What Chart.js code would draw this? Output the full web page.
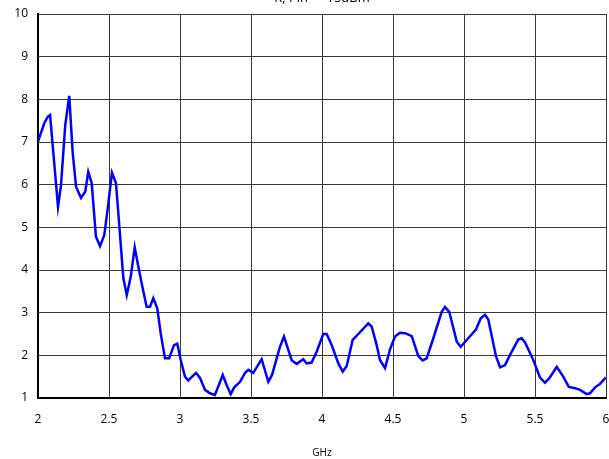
<!DOCTYPE html>
<html>
<head>
<meta charset="utf-8">
<script src="https://cdn.jsdelivr.net/npm/chart.js@4/dist/chart.umd.min.js"></script>
<style>
  html, body { margin: 0; padding: 0; background: #fff; }
  #wrap { width: 609px; height: 459px; position: relative; }
</style>
</head>
<body>
<div id="wrap"><canvas id="c" width="609" height="459"></canvas></div>
<script>
const chartTitle = "K, Pin = -15dBm";
const xAxisTitle = "GHz";
const xTicks = [2, 2.5, 3, 3.5, 4, 4.5, 5, 5.5, 6];
const yTicks = [1, 2, 3, 4, 5, 6, 7, 8, 9, 10];

const freqGHz = [
  2.000, 2.044, 2.068, 2.085, 2.141, 2.162, 2.192, 2.220, 2.244, 2.268,
  2.303, 2.333, 2.354, 2.378, 2.408, 2.437, 2.467, 2.491, 2.521, 2.549,
  2.573, 2.601, 2.625, 2.653, 2.681, 2.706, 2.737, 2.765, 2.789, 2.812,
  2.840, 2.864, 2.894, 2.923, 2.958, 2.981, 3.005, 3.035, 3.058, 3.113,
  3.141, 3.176, 3.211, 3.246, 3.301, 3.329, 3.357, 3.382, 3.423, 3.458,
  3.481, 3.516, 3.575, 3.622, 3.648, 3.704, 3.732, 3.787, 3.822, 3.868,
  3.892, 3.927, 3.963, 4.009, 4.033, 4.068, 4.115, 4.146, 4.174, 4.216,
  4.256, 4.326, 4.350, 4.385, 4.408, 4.444, 4.479, 4.514, 4.549, 4.585,
  4.632, 4.678, 4.709, 4.737, 4.784, 4.843, 4.866, 4.896, 4.949, 4.977,
  5.030, 5.085, 5.118, 5.148, 5.171, 5.225, 5.254, 5.289, 5.324, 5.382,
  5.406, 5.430, 5.488, 5.535, 5.570, 5.600, 5.653, 5.699, 5.738, 5.782,
  5.817, 5.864, 5.887, 5.923, 5.958, 5.993, 6.000
];
const kValues = [
  7.01, 7.44, 7.59, 7.63, 5.48, 5.99, 7.40, 8.08, 6.77, 5.95,
  5.69, 5.84, 6.30, 6.04, 4.78, 4.56, 4.82, 5.44, 6.28, 6.04,
  5.02, 3.81, 3.41, 3.84, 4.53, 4.09, 3.58, 3.14, 3.14, 3.34,
  3.10, 2.52, 1.93, 1.93, 2.24, 2.27, 1.89, 1.50, 1.41, 1.59,
  1.47, 1.19, 1.11, 1.07, 1.54, 1.30, 1.09, 1.25, 1.38, 1.59,
  1.66, 1.59, 1.91, 1.38, 1.54, 2.20, 2.44, 1.88, 1.80, 1.91,
  1.81, 1.83, 2.09, 2.50, 2.50, 2.24, 1.81, 1.62, 1.75, 2.36,
  2.50, 2.75, 2.67, 2.24, 1.89, 1.70, 2.14, 2.44, 2.53, 2.52,
  2.45, 1.98, 1.88, 1.93, 2.40, 3.02, 3.13, 3.02, 2.32, 2.20,
  2.40, 2.61, 2.87, 2.95, 2.84, 1.98, 1.72, 1.77, 2.01, 2.37,
  2.40, 2.30, 1.89, 1.48, 1.36, 1.46, 1.73, 1.50, 1.26, 1.23,
  1.19, 1.09, 1.11, 1.25, 1.33, 1.46, 1.47
];

const points = freqGHz.map((f, i) => ({ x: f, y: kValues[i] }));
const FONT = "'Open Sans', 'Noto Sans', sans-serif";

const partialTitle = {
  id: 'partialTitle',
  afterDraw(chart) {
    const ctx = chart.ctx;
    const a = chart.chartArea;
    ctx.save();
    ctx.fillStyle = '#000';
    ctx.font = "13px " + FONT;
    ctx.textAlign = 'center';
    ctx.textBaseline = 'alphabetic';
    ctx.fillText(chartTitle, (a.left + a.right) / 2, a.top - 12);
    ctx.restore();
  }
};

new Chart(document.getElementById('c'), {
  type: 'line',
  data: {
    datasets: [{
      data: points,
      borderColor: '#0000ff',
      borderWidth: 2.5,
      pointRadius: 0,
      tension: 0,
      fill: false
    }]
  },
  options: {
    responsive: false,
    animation: false,
    devicePixelRatio: 1,
    layout: { padding: { top: 14, right: 3, left: 0, bottom: 0 } },
    plugins: {
      legend: { display: false },
      title: { display: false },
      tooltip: { enabled: false }
    },
    scales: {
      x: {
        type: 'linear',
        min: 2, max: 6,
        afterBuildTicks: s => { s.ticks = xTicks.map(v => ({ value: v })); },
        afterFit: s => { s.height = 61; s.paddingLeft = 0; s.paddingRight = 0; },
        ticks: {
          color: '#000',
          font: { family: FONT, size: 12 },
          padding: 14,
          maxRotation: 0,
          callback: v => String(v)
        },
        grid: { color: '#3a3a3a', lineWidth: 1, drawTicks: false },
        border: { color: '#000', width: 2 },
        title: {
          display: true,
          text: xAxisTitle,
          color: '#000',
          font: { family: FONT, size: 10 },
          padding: { top: 0, bottom: 0 }
        }
      },
      y: {
        type: 'linear',
        min: 1, max: 10,
        afterBuildTicks: s => { s.ticks = yTicks.map(v => ({ value: v })); },
        afterFit: s => { s.width = 38; s.paddingTop = 0; s.paddingBottom = 0; },
        ticks: {
          color: '#000',
          font: { family: FONT, size: 12 },
          padding: 10,
          callback: v => String(v)
        },
        grid: { color: '#3a3a3a', lineWidth: 1, drawTicks: false },
        border: { color: '#000', width: 2 }
      }
    }
  },
  plugins: [partialTitle]
});
</script>
</body>
</html>
